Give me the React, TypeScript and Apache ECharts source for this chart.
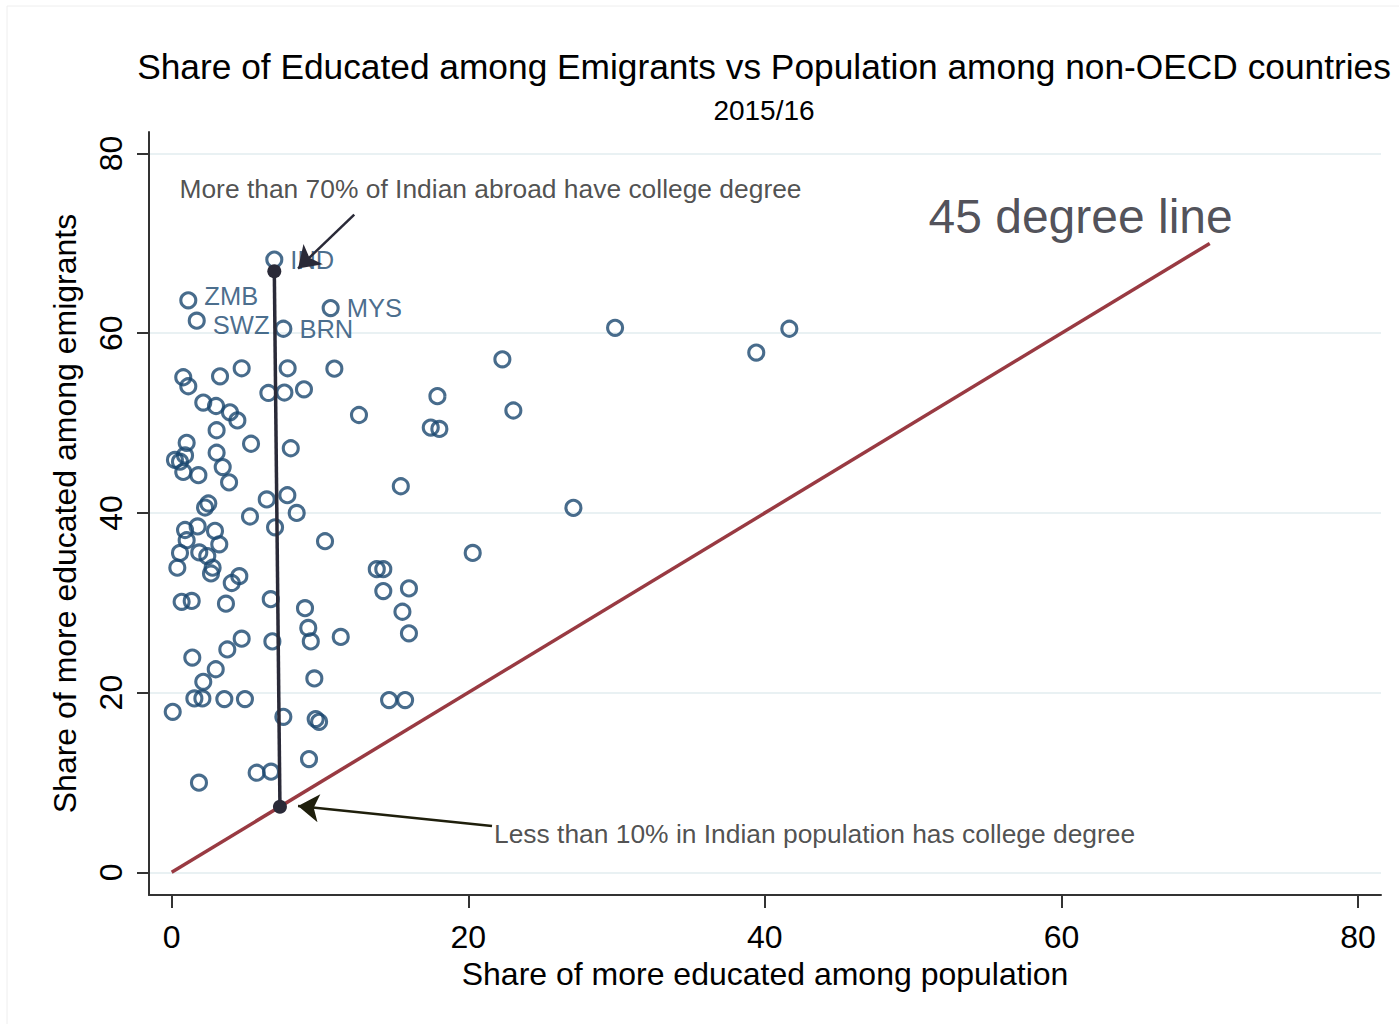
import React, { useEffect, useRef } from "react";
import * as echarts from "echarts";

// ---- Data ----
const countryCodes: string[] = [
  "IND", "ZMB", "SWZ", "BRN", "MYS",
  "", "", "", "", "", "", "", "", "", "",
  "", "", "", "", "", "", "", "", "", "",
  "", "", "", "", "", "", "", "", "", "",
  "", "", "", "", "", "", "", "", "", "",
  "", "", "", "", "", "", "", "", "", "",
  "", "", "", "", "", "", "", "", "", "",
  "", "", "", "", "", "", "", "", "", "",
  "", "", "", "", "", "", "", "", "", "",
  "", "", "",
];
// share of more educated among population (x)
const popShare: number[] = [
  6.92, 1.12, 1.69, 7.53, 10.72,
  4.72, 0.78, 1.12, 3.26, 7.82, 10.97, 6.52, 7.6, 8.92, 2.13,
  2.99, 3.93, 4.43, 12.63, 3.03, 1.01, 5.35, 8.03, 3.03, 0.9,
  0.22, 0.56, 0.78, 1.8, 3.44, 3.87, 2.47, 2.25, 6.41, 7.8,
  5.28, 8.43, 6.97, 10.34, 0.9, 1.75, 2.92, 1.01, 3.21, 0.56,
  1.86, 2.4, 0.38, 2.76, 2.65, 4.56, 4.05, 0.67, 1.35, 3.66,
  6.68, 8.99, 9.21, 9.38, 11.4, 6.79, 4.72, 3.75, 1.39, 2.97,
  2.13, 9.62, 1.53, 2.07, 3.55, 4.94, 0.07, 7.53, 9.71, 9.94,
  14.66, 15.74, 9.26, 5.73, 6.7, 1.84, 29.9, 22.3, 17.92, 23.04,
  17.47, 18.05, 15.45, 27.09, 20.3, 13.83, 14.27, 14.27, 16.0, 15.56,
  16.0, 39.42, 41.65,
];
// share of more educated among emigrants (y)
const emigShare: number[] = [
  68.2, 63.66, 61.4, 60.5, 62.8,
  56.1, 55.1, 54.1, 55.2, 56.1, 56.06, 53.35, 53.4, 53.76, 52.28,
  51.9, 51.2, 50.3, 50.9, 49.2, 47.8, 47.7, 47.2, 46.7, 46.4,
  45.9, 45.7, 44.56, 44.2, 45.1, 43.4, 41.05, 40.6, 41.5, 41.97,
  39.6, 40.0, 38.4, 36.85, 38.1, 38.5, 38.0, 36.96, 36.5, 35.55,
  35.6, 35.2, 33.9, 33.9, 33.26, 32.96, 32.2, 30.1, 30.2, 29.9,
  30.4, 29.4, 27.2, 25.7, 26.2, 25.7, 26.0, 24.8, 23.9, 22.6,
  21.2, 21.58, 19.35, 19.35, 19.28, 19.28, 17.86, 17.3, 17.05, 16.75,
  19.17, 19.17, 12.6, 11.08, 11.2, 9.97, 60.6, 57.1, 53.0, 51.4,
  49.5, 49.35, 42.97, 40.56, 35.55, 33.74, 33.74, 31.3, 31.6, 29.0,
  26.6, 57.85, 60.5,
];

const xTicks: number[] = [0, 20, 40, 60, 80];
const yTicks: number[] = [0, 20, 40, 60, 80];

// 45 degree line endpoints
const diagX: number[] = [0, 70];
const diagY: number[] = [0, 70];

// India: emigrants share vs population share segment
const indiaSegX: number[] = [6.92, 7.3];
const indiaSegY: number[] = [66.9, 7.3];

// annotation arrows [fromX, fromY, toX, toY]
const arrowTop: number[] = [12.31, 73.2, 8.52, 67.2];
const arrowBottom: number[] = [21.6, 5.15, 8.52, 7.37];

// annotation texts and anchor positions
const noteTexts: string[] = [
  "More than 70% of Indian abroad have college degree",
  "Less than 10% in Indian population has college degree",
];
const noteX: number[] = [0.49, 21.7];
const noteY: number[] = [76.0, 4.3];
const diagLabel = "45 degree line";
const diagLabelPos: number[] = [51.0, 73.0];

const titleText = "Share of Educated among Emigrants vs Population among non-OECD countries";
const subtitleText = "2015/16";
const xName = "Share of more educated among population";
const yName = "Share of more educated among emigrants";

const FONT = "'Liberation Sans', Arial, Helvetica, sans-serif";
const NAVY = "#1a476f";

// small vertical nudges for the two stacked labels so they do not collide
const labelNudge: Record<string, number> = { ZMB: -4, SWZ: 4 };

export default function App() {
  const ref = useRef<HTMLDivElement>(null);

  useEffect(() => {
    document.body.style.margin = "0";
    if (!ref.current) return;
    const chart = echarts.init(ref.current, undefined, { renderer: "svg" });

    const scatterData = popShare.map((x, i) => {
      const code = countryCodes[i] || "";
      return {
        name: code,
        value: [x, emigShare[i]],
        label: { show: !!code, offset: [0, labelNudge[code] || 0] },
      };
    });

    const option: any = {
      animation: false,
      backgroundColor: "#ffffff",
      textStyle: { fontFamily: FONT },
      graphic: [
        {
          type: "rect",
          shape: { x: 7, y: 6, width: 1420, height: 1040 },
          style: { fill: "none", stroke: "#eeeeee", lineWidth: 1 },
          silent: true,
          z: -10,
        },
        {
          type: "text",
          x: 764,
          y: 66,
          style: {
            text: titleText,
            fontSize: 35.3,
            fontFamily: FONT,
            fill: "#000000",
            align: "center",
            verticalAlign: "middle",
          },
        },
        {
          type: "text",
          x: 764,
          y: 110,
          style: {
            text: subtitleText,
            fontSize: 28,
            fontFamily: FONT,
            fill: "#000000",
            align: "center",
            verticalAlign: "middle",
          },
        },
      ],
      grid: { left: 149, right: 18, top: 132, bottom: 129, containLabel: false },
      xAxis: {
        type: "value",
        min: -1.53,
        max: 81.55,
        name: xName,
        nameLocation: "middle",
        nameGap: 52,
        nameTextStyle: { fontSize: 32, color: "#000", fontFamily: FONT },
        axisLine: { show: true, onZero: false, lineStyle: { color: "#333333", width: 2 } },
        axisTick: {
          show: true,
          customValues: xTicks,
          length: 13,
          lineStyle: { color: "#333333", width: 2 },
        },
        axisLabel: {
          customValues: xTicks,
          fontSize: 32,
          color: "#000",
          margin: 26,
          fontFamily: FONT,
        },
        splitLine: { show: false },
      },
      yAxis: {
        type: "value",
        min: -2.53,
        max: 82.4,
        name: yName,
        nameLocation: "middle",
        nameGap: 68,
        nameRotate: 90,
        nameTextStyle: { fontSize: 32, color: "#000", fontFamily: FONT },
        axisLine: { show: true, onZero: false, lineStyle: { color: "#333333", width: 2 } },
        axisTick: {
          show: true,
          customValues: yTicks,
          length: 12,
          lineStyle: { color: "#333333", width: 2 },
        },
        axisLabel: {
          customValues: yTicks,
          rotate: 90,
          fontSize: 32,
          color: "#000",
          margin: 22,
          fontFamily: FONT,
        },
        splitLine: { show: true, lineStyle: { color: "#e9f1f3", width: 2 } },
      },
      series: [
        {
          type: "line",
          name: "diag",
          data: diagX.map((x, i) => [x, diagY[i]]),
          showSymbol: false,
          symbol: "none",
          lineStyle: { color: "#993a42", width: 3.5 },
          z: 2,
          silent: true,
        },
        {
          type: "scatter",
          name: "countries",
          data: scatterData,
          symbol: "circle",
          symbolSize: 15,
          itemStyle: { color: "rgba(255,255,255,0)", borderColor: NAVY, borderWidth: 3.1 },
          label: {
            show: false,
            position: "right",
            distance: 7,
            formatter: "{b}",
            fontSize: 25.5,
            lineHeight: 20,
            color: NAVY,
            fontFamily: FONT,
          },
          z: 3,
          silent: true,
        },
        {
          type: "line",
          name: "india",
          data: indiaSegX.map((x, i) => [x, indiaSegY[i]]),
          symbol: "circle",
          symbolSize: 14,
          showSymbol: true,
          itemStyle: { color: "#2a2a38" },
          lineStyle: { color: "#2a2a38", width: 3.5 },
          z: 4,
          silent: true,
        },
        {
          type: "lines",
          coordinateSystem: "cartesian2d",
          symbol: ["none", "arrow"],
          symbolSize: 21,
          data: [
            {
              coords: [
                [arrowTop[0], arrowTop[1]],
                [arrowTop[2], arrowTop[3]],
              ],
              lineStyle: { color: "#2a2a38" },
            },
            {
              coords: [
                [arrowBottom[0], arrowBottom[1]],
                [arrowBottom[2], arrowBottom[3]],
              ],
              lineStyle: { color: "#1f1f0c" },
            },
          ],
          lineStyle: { width: 2.5, opacity: 1, curveness: 0 },
          z: 5,
          silent: true,
        },
        {
          type: "scatter",
          name: "notes",
          data: noteTexts.map((t, i) => ({ name: t, value: [noteX[i], noteY[i]] })),
          symbol: "circle",
          symbolSize: 1,
          itemStyle: { color: "rgba(0,0,0,0)" },
          label: {
            show: true,
            position: "right",
            distance: 0,
            formatter: "{b}",
            fontSize: 26.4,
            color: "#242424",
            fontFamily: FONT,
          },
          z: 6,
          silent: true,
        },
        {
          type: "scatter",
          name: "diagLabel",
          data: [{ name: diagLabel, value: diagLabelPos }],
          symbol: "circle",
          symbolSize: 1,
          itemStyle: { color: "rgba(0,0,0,0)" },
          label: {
            show: true,
            position: "right",
            distance: 0,
            formatter: "{b}",
            fontSize: 48,
            color: "#24242e",
            fontFamily: FONT,
          },
          z: 6,
          silent: true,
        },
      ],
    };

    chart.setOption(option);
    return () => {
      chart.dispose();
    };
  }, []);

  return <div ref={ref} style={{ width: 1399, height: 1024 }} />;
}
